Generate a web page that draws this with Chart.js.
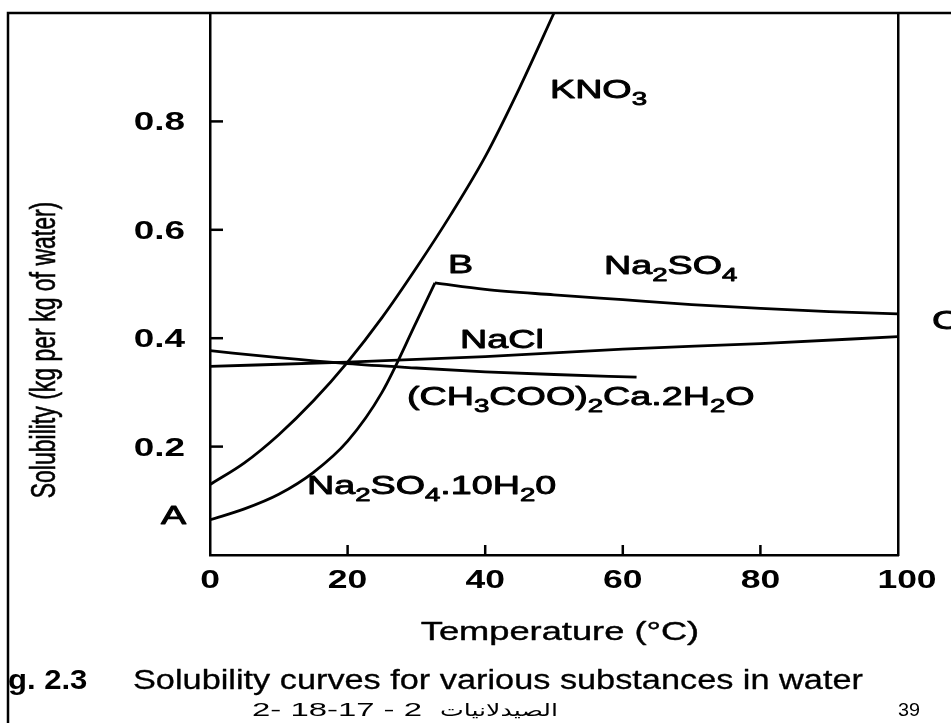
<!DOCTYPE html>
<html><head><meta charset="utf-8">
<script src="https://cdn.jsdelivr.net/npm/chart.js@4.4.1/dist/chart.umd.min.js"></script>
<style>html,body{margin:0;padding:0;background:#fff;} #wrap{position:relative;width:951px;height:723px;}</style>
</head><body><div id="wrap"><canvas id="c"></canvas></div>
<script>
// ---- data (temperature °C, solubility kg per kg water) ----
const kno3Temp = [0, 5, 10, 15, 20, 25, 30, 35, 40, 45, 50];
const kno3Sol  = [0.13, 0.17, 0.222, 0.284, 0.356, 0.438, 0.53, 0.628, 0.735, 0.862, 1.0];
const decaTemp = [0, 5, 10, 15, 20, 25, 30, 32.7];
const decaSol  = [0.065, 0.085, 0.112, 0.152, 0.21, 0.3, 0.43, 0.502];
const na2so4Temp = [32.7, 40, 50, 60, 70, 80, 90, 100];
const na2so4Sol  = [0.502, 0.49, 0.48, 0.471, 0.462, 0.455, 0.449, 0.445];
const naclTemp = [0, 20, 40, 60, 80, 100];
const naclSol  = [0.348, 0.356, 0.366, 0.38, 0.39, 0.403];
const acetTemp = [0, 10, 20, 30, 40, 50, 62];
const acetSol  = [0.377, 0.364, 0.353, 0.345, 0.338, 0.333, 0.328];

const xTickValues = [0, 20, 40, 60, 80, 100];
const xTickLabels = ['0', '20', '40', '60', '80', '100'];
const yTickValues = [0.2, 0.4, 0.6, 0.8];
const yTickLabels = ['0.2', '0.4', '0.6', '0.8'];

const xTitle = 'Temperature (°C)';
const yTitle = 'Solubility (kg per kg of water)';
const captionNum = 'g. 2.3';
const captionText = 'Solubility curves for various substances in water';
const footerNums = '2- 18-17 - 2';
const footerArabic = 'الصيدلانيات';
const pageNum = '39';

// ---- helpers ----
const FONT = '"Liberation Sans", Arial, Helvetica, sans-serif';
function pts(t, s) { return t.map((v, i) => ({ x: v, y: s[i] })); }

function rich(ctx, parts, x, y, size, sx, weight, align, stroke) {
  ctx.save();
  const fontFor = p => `${weight} ${p[1] ? Math.round(size * 0.72) : size}px ${FONT}`;
  const widths = parts.map(p => { ctx.font = fontFor(p); return ctx.measureText(p[0]).width; });
  const total = widths.reduce((a, b) => a + b, 0);
  let cx = align === 'center' ? -total / 2 : (align === 'right' ? -total : 0);
  ctx.translate(x, y);
  ctx.scale(sx, 1);
  ctx.textBaseline = 'alphabetic';
  ctx.textAlign = 'left';
  ctx.fillStyle = '#000';
  ctx.strokeStyle = '#000';
  ctx.lineJoin = 'round';
  parts.forEach((p, i) => {
    ctx.font = fontFor(p);
    const yy = p[1] ? size * 0.27 : 0;
    ctx.fillText(p[0], cx, yy);
    if (stroke) { ctx.lineWidth = stroke; ctx.strokeText(p[0], cx, yy); }
    cx += widths[i];
  });
  ctx.restore();
}

function fitText(ctx, text, x, y, font, width) {
  ctx.save();
  ctx.font = font;
  const w = ctx.measureText(text).width;
  ctx.translate(x, y);
  ctx.scale(width / w, 1);
  ctx.fillStyle = '#000';
  ctx.textAlign = 'left';
  ctx.textBaseline = 'alphabetic';
  ctx.fillText(text, 0, 0);
  ctx.restore();
}

const labels = [
  { parts: [['KNO', 0], ['3', 1]], x: 550, y: 98 },
  { parts: [['B', 0]], x: 448, y: 273 },
  { parts: [['Na', 0], ['2', 1], ['SO', 0], ['4', 1]], x: 604, y: 274 },
  { parts: [['NaCl', 0]], x: 460, y: 348 },
  { parts: [['(CH', 0], ['3', 1], ['COO)', 0], ['2', 1], ['Ca.2H', 0], ['2', 1], ['O', 0]], x: 407, y: 405 },
  { parts: [['Na', 0], ['2', 1], ['SO', 0], ['4', 1], ['.10H', 0], ['2', 1], ['0', 0]], x: 307, y: 494 },
  { parts: [['A', 0]], x: 161, y: 524 },
  { parts: [['C', 0]], x: 932, y: 329 }
];

const decor = {
  id: 'decor',
  afterDraw(chart) {
    const ctx = chart.ctx;
    const xs = chart.scales.x, ys = chart.scales.y;
    const area = chart.chartArea;
    ctx.save();
    // page frame
    ctx.strokeStyle = '#000';
    ctx.lineWidth = 2.5;
    ctx.beginPath();
    ctx.moveTo(8, 723); ctx.lineTo(8, 13); ctx.lineTo(951, 13);
    ctx.stroke();
    // inward ticks
    ctx.lineWidth = 2.5;
    yTickValues.forEach(v => {
      const py = ys.getPixelForValue(v);
      ctx.beginPath(); ctx.moveTo(area.left, py); ctx.lineTo(area.left + 13, py); ctx.stroke();
    });
    xTickValues.forEach(v => {
      if (v === xs.min || v === xs.max) return;
      const px = xs.getPixelForValue(v);
      ctx.beginPath(); ctx.moveTo(px, area.bottom); ctx.lineTo(px, area.bottom - 10); ctx.stroke();
    });
    ctx.restore();

    // tick labels
    yTickValues.forEach((v, i) => {
      const py = ys.getPixelForValue(v);
      rich(ctx, [[yTickLabels[i], 0]], 185, py + 9, 26, 1.42, 'bold', 'right');
    });
    xTickValues.forEach((v, i) => {
      const px = xs.getPixelForValue(v) + (v === xs.max ? 9 : 0);
      rich(ctx, [[xTickLabels[i], 0]], px, 588, 25, 1.42, 'bold', 'center');
    });

    // axis titles
    rich(ctx, [[xTitle, 0]], 560, 640, 25, 1.45, 'normal', 'center', 0.4);
    ctx.save();
    ctx.translate(55, 350);
    ctx.rotate(-Math.PI / 2);
    ctx.scale(1, 1.5);
    ctx.font = `normal 23px ${FONT}`;
    ctx.fillStyle = '#000';
    ctx.strokeStyle = '#000';
    ctx.lineWidth = 0.4;
    ctx.textAlign = 'center';
    ctx.textBaseline = 'alphabetic';
    ctx.fillText(yTitle, 0, 0);
    ctx.strokeText(yTitle, 0, 0);
    ctx.restore();

    // curve labels
    labels.forEach(l => rich(ctx, l.parts, l.x, l.y, 26, 1.45, 'normal', 'left', 0.9));

    // caption
    rich(ctx, [[captionNum, 0]], 8, 689, 27, 1.15, 'bold', 'left');
    rich(ctx, [[captionText, 0]], 133, 689, 27, 1.27, 'normal', 'left', 0.3);

    // footer
    fitText(ctx, footerNums, 252, 716, `normal 19px ${FONT}`, 170);
    fitText(ctx, footerArabic, 440, 716, `normal 17px "DejaVu Sans", sans-serif`, 118);
    fitText(ctx, pageNum, 898, 716, `normal 19px ${FONT}`, 22);
  }
};

const lineStyle = { showLine: true, fill: false, borderColor: '#000', borderWidth: 2.8, pointRadius: 0, cubicInterpolationMode: 'monotone' };

new Chart(document.getElementById('c'), {
  type: 'scatter',
  data: {
    datasets: [
      Object.assign({ label: 'KNO3', data: pts(kno3Temp, kno3Sol) }, lineStyle),
      Object.assign({ label: 'Na2SO4.10H2O', data: pts(decaTemp, decaSol) }, lineStyle),
      Object.assign({ label: 'Na2SO4', data: pts(na2so4Temp, na2so4Sol) }, lineStyle),
      Object.assign({ label: 'NaCl', data: pts(naclTemp, naclSol) }, lineStyle),
      Object.assign({ label: '(CH3COO)2Ca.2H2O', data: pts(acetTemp, acetSol) }, lineStyle)
    ]
  },
  options: {
    responsive: true,
    maintainAspectRatio: false,
    animation: false,
    layout: { padding: { left: 0, right: 53, top: 13, bottom: 0 } },
    plugins: { legend: { display: false }, tooltip: { enabled: false } },
    scales: {
      x: {
        type: 'linear', min: 0, max: 100,
        grid: { display: false }, ticks: { display: false },
        border: { display: true, color: '#000', width: 2.5 },
        afterFit(s) { s.height = 168; }
      },
      y: {
        type: 'linear', min: 0, max: 1,
        grid: { display: false }, ticks: { display: false },
        border: { display: true, color: '#000', width: 2.5 },
        afterFit(s) { s.width = 210; }
      },
      y2: {
        type: 'linear', position: 'right', min: 0, max: 1,
        grid: { display: false }, ticks: { display: false },
        border: { display: true, color: '#000', width: 2.5 },
        afterFit(s) { s.width = 0; }
      }
    }
  },
  plugins: [decor]
});
</script>
</body></html>
